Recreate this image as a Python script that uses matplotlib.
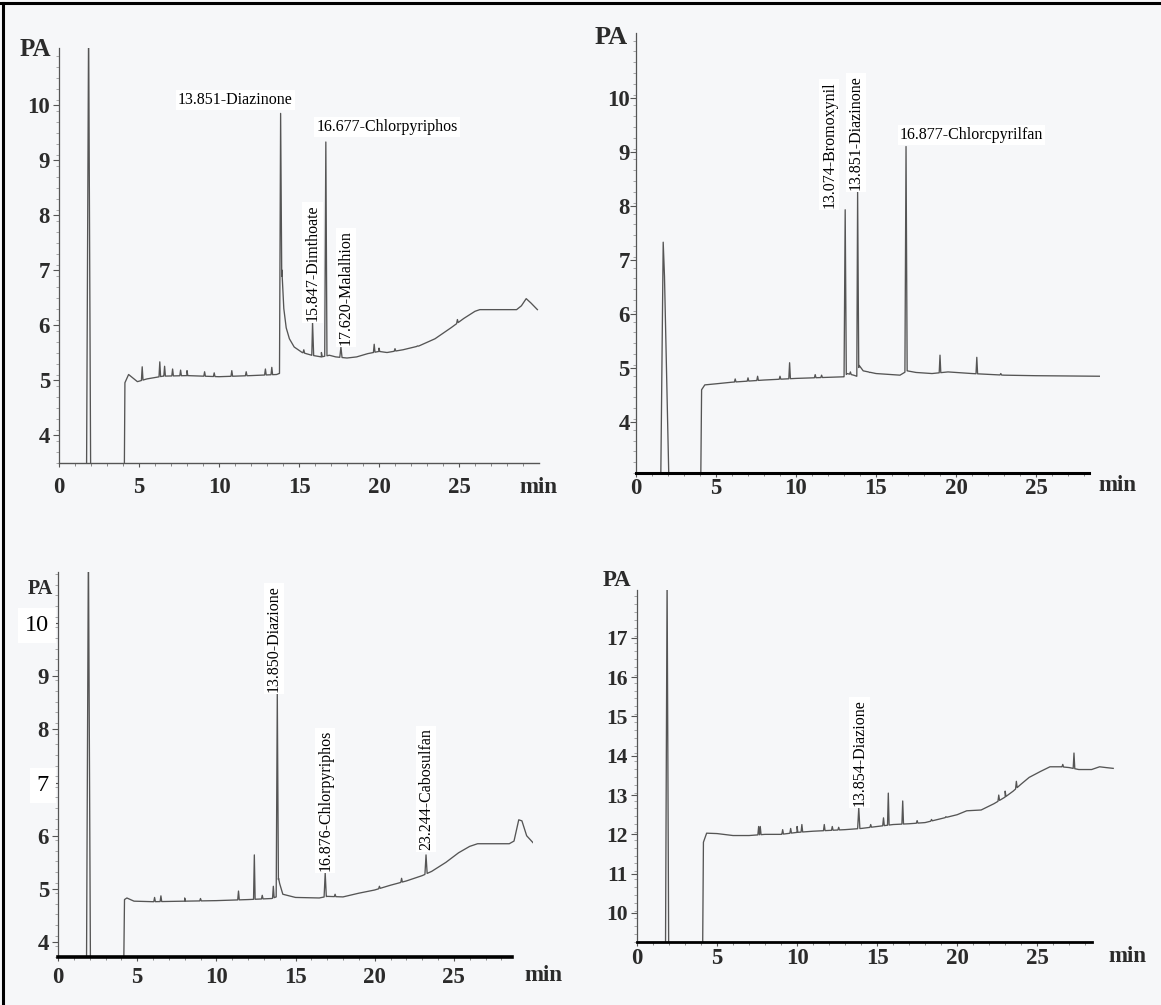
import numpy as np
import matplotlib.pyplot as plt
from matplotlib.lines import Line2D

plt.rcParams['font.family'] = ['Liberation Serif', 'DejaVu Serif']

# ---- panel 1 (top left): baseline trace and spikes, minutes / pA ----
p1_base_t = [1.72, 1.85, 1.98, 4.08, 4.12, 4.35, 4.90, 5.50, 6.50, 8.00, 10.0, 12.0, 13.60,
             13.78, 13.93, 14.05, 14.20, 14.40, 14.70, 15.20, 15.80, 16.40, 16.90, 17.30,
             18.00, 18.60, 19.30, 20.00, 20.50, 21.50, 22.50, 23.50, 24.50, 25.30, 26.00,
             26.30, 28.60, 28.90, 29.20, 29.50, 29.90]
p1_base_y = [3.20, 11.50, 3.20, 3.20, 4.95, 5.10, 4.97, 5.02, 5.07, 5.08, 5.06, 5.08, 5.10,
             5.12, 7.00, 6.30, 5.95, 5.75, 5.60, 5.50, 5.45, 5.42, 5.45, 5.42,
             5.40, 5.42, 5.48, 5.52, 5.50, 5.55, 5.62, 5.75, 5.95, 6.12, 6.25,
             6.28, 6.28, 6.35, 6.48, 6.40, 6.28]
p1_spike_t = [5.2, 6.3, 6.6, 7.1, 7.6, 8.0, 9.1, 9.7, 10.8, 11.7, 12.9, 13.3,
              15.3, 16.4, 19.7, 20.0, 21.0, 22.4, 24.9]
p1_spike_y = [5.24, 5.33, 5.25, 5.20, 5.18, 5.17, 5.15, 5.13, 5.17, 5.15, 5.20, 5.23,
              5.55, 5.50, 5.65, 5.58, 5.57, 5.62, 6.10]
p1_peak_t = [13.851, 15.847, 16.677, 17.620]
p1_peak_y = [9.85, 6.05, 9.33, 5.60]
p1_names = ['13.851-Diazinone', '15.847-Dimthoate', '16.677-Chlorpyriphos', '17.620-Malalhion']

# ---- panel 2 (top right) ----
p2_base_t = [1.55, 1.70, 1.78, 2.05, 4.05, 4.10, 4.30, 5.00, 6.00, 8.00, 10.0, 12.0, 13.0,
             13.2, 13.6, 13.8, 13.95, 14.2, 15.0, 16.5, 16.95, 17.5, 18.5, 19.5, 21.0,
             23.0, 25.0, 29.0]
p2_base_y = [3.00, 7.33, 6.70, 3.00, 3.00, 4.60, 4.69, 4.71, 4.74, 4.78, 4.81, 4.83, 4.84,
             4.90, 4.87, 4.85, 5.05, 4.95, 4.90, 4.87, 4.95, 4.92, 4.90, 4.93, 4.90,
             4.87, 4.86, 4.85]
p2_spike_t = [6.2, 7.0, 7.6, 9.0, 9.6, 11.2, 11.6, 13.4, 14.6, 19.0, 21.3, 22.8]
p2_spike_y = [4.80, 4.82, 4.85, 4.85, 5.10, 4.88, 4.87, 4.93, 4.92, 5.24, 5.20, 4.90]
p2_peak_t = [13.074, 13.851, 16.877]
p2_peak_y = [7.93, 8.26, 9.10]
p2_names = ['13.074-Bromoxynil', '13.851-Diazinone', '16.877-Chlorcpyrilfan']

# ---- panel 3 (bottom left) ----
p3_base_t = [1.80, 1.92, 2.05, 4.15, 4.20, 4.35, 4.80, 6.00, 8.00, 10.0, 12.0, 13.5, 13.78,
             13.93, 14.0, 14.2, 15.0, 16.5, 17.0, 18.0, 19.0, 20.0, 21.0, 22.0, 23.0,
             23.6, 24.5, 25.3, 26.0, 26.5, 28.5, 28.8, 29.1, 29.3, 29.6, 30.0]
p3_base_y = [3.50, 11.50, 3.50, 3.50, 4.80, 4.83, 4.77, 4.76, 4.77, 4.78, 4.80, 4.82, 4.85,
             5.20, 5.10, 4.90, 4.84, 4.83, 4.86, 4.85, 4.92, 4.98, 5.07, 5.15, 5.25,
             5.33, 5.50, 5.68, 5.80, 5.85, 5.85, 5.90, 6.30, 6.28, 6.00, 5.87]
p3_spike_t = [6.1, 6.5, 8.0, 9.0, 11.4, 12.4, 12.9, 13.6, 17.5, 20.3, 21.7]
p3_spike_y = [4.84, 4.87, 4.83, 4.82, 4.96, 5.64, 4.88, 5.05, 4.90, 5.05, 5.20]
p3_peak_t = [13.850, 16.876, 23.244]
p3_peak_y = [8.68, 5.30, 5.64]
p3_names = ['13.850-Diazione', '16.876-Chlorpyriphos', '23.244-Cabosulfan']

# ---- panel 4 (bottom right) ----
p4_base_t = [1.78, 1.88, 1.98, 4.10, 4.15, 4.35, 5.0, 6.0, 7.0, 8.0, 9.0, 10.0, 11.0, 12.0,
             13.0, 14.0, 15.0, 16.0, 17.0, 18.0, 19.0, 20.0, 20.6, 21.5, 22.3, 23.0, 23.5,
             24.0, 24.5, 25.2, 25.8, 26.5, 27.0, 27.6, 28.4, 28.9, 29.3, 29.75]
p4_base_y = [9.00, 18.50, 9.00, 9.00, 11.80, 12.03, 12.02, 11.97, 11.97, 12.00, 12.00,
             12.05, 12.08, 12.10, 12.12, 12.15, 12.20, 12.25, 12.27, 12.30, 12.40, 12.50,
             12.60, 12.62, 12.78, 12.95, 13.10, 13.28, 13.45, 13.60, 13.72, 13.72, 13.70,
             13.65, 13.65, 13.72, 13.70, 13.68]
p4_spike_t = [7.6, 7.7, 9.1, 9.6, 10.0, 10.3, 11.7, 12.2, 12.6, 14.6, 15.4, 15.7, 16.6,
              17.5, 18.4, 19.3, 22.6, 23.0, 23.7, 26.6, 27.3]
p4_spike_y = [12.20, 12.20, 12.12, 12.15, 12.20, 12.25, 12.25, 12.20, 12.18, 12.25, 12.42,
              13.05, 12.85, 12.35, 12.38, 12.45, 13.00, 13.10, 13.35, 13.78, 14.07]
p4_peak_t = [13.854]
p4_peak_y = [12.67]
p4_names = ['13.854-Diazione']

W, H = 1161, 1005
paper = '#f6f7f9'
ink = '#2b2b2b'
trace_col = '#555555'


def px_box(x0, y0, x1, y1):
    return [x0 / W, 1 - y1 / H, (x1 - x0) / W, (y1 - y0) / H]


def px(x, y):
    return x / W, 1 - y / H


def build_trace(bt, by, st, sy, pt, py):
    pts = list(zip(bt, by))
    for group, w in (((st, sy), 0.05), ((pt, py), 0.07)):
        for t, h in zip(*group):
            f0, f1 = np.interp([t - w, t + w], bt, by)
            pts += [(t - w, f0), (t, h), (t + w, f1)]
    pts.sort()
    t, y = zip(*pts)
    return np.array(t), np.array(y)


fig = plt.figure(figsize=(W / 100, H / 100), dpi=100, facecolor=paper)

panels = [
    dict(box=(59, 48, 539, 463), xlim=(0, 30), ylim=(3.49, 11.04), xend=30,
         yticks=range(4, 11), data=(p1_base_t, p1_base_y, p1_spike_t, p1_spike_y,
                                    p1_peak_t, p1_peak_y), names=p1_names,
         bottom_lw=1.0, bottom_col='#555555', xpad=7, ypad=2.5, ysize=16.5,
         pa=(35, 50), pa_size=18, mn=(538, 487)),
    dict(box=(636, 33, 1100, 473), xlim=(0, 29), ylim=(3.06, 11.2), xend=28.3,
         yticks=range(4, 11), data=(p2_base_t, p2_base_y, p2_spike_t, p2_spike_y,
                                    p2_peak_t, p2_peak_y), names=p2_names,
         bottom_lw=2.2, bottom_col='black', xpad=0.5, ypad=0.5, ysize=16.5,
         pa=(611, 38), pa_size=19, mn=(1117, 485)),
    dict(box=(58, 572, 533, 957), xlim=(0, 30), ylim=(3.72, 10.96), xend=28.7,
         yticks=range(4, 11), data=(p3_base_t, p3_base_y, p3_spike_t, p3_spike_y,
                                    p3_peak_t, p3_peak_y), names=p3_names,
         bottom_lw=2.6, bottom_col='black', xpad=4, ypad=2.5, ysize=16.5,
         pa=(40, 589), pa_size=14.5, mn=(543, 975)),
    dict(box=(637, 590, 1114, 942), xlim=(0, 29.8), ylim=(9.26, 18.22), xend=28.4,
         yticks=range(10, 18), data=(p4_base_t, p4_base_y, p4_spike_t, p4_spike_y,
                                     p4_peak_t, p4_peak_y), names=p4_names,
         bottom_lw=2.0, bottom_col='black', xpad=1.5, ypad=2.5, ysize=15.5,
         pa=(617, 580), pa_size=16.5, mn=(1127, 956)),
]

# label placement for each named peak: (dx in min, dy in pA, rotation, ha, va)
label_style = [
    [(0.75, 0.25, 0, 'right', 'center'), (0.0, 0.03, 90, 'center', 'bottom'),
     (-0.6, 0.27, 0, 'left', 'center'), (0.3, 0.03, 90, 'center', 'bottom')],
    [(-1.0, 0.03, 90, 'center', 'bottom'), (-0.1, 0.03, 90, 'center', 'bottom'),
     (-0.4, 0.22, 0, 'left', 'center')],
    [(-0.2, 0.03, 90, 'center', 'bottom'), (0.0, 0.03, 90, 'center', 'bottom'),
     (0.0, 0.1, 90, 'center', 'bottom')],
    [(0.05, 0.05, 90, 'center', 'bottom')],
]

for p, styles in zip(panels, label_style):
    ax = fig.add_axes(px_box(*p['box']))
    ax.set_facecolor('none')
    t, y = build_trace(*p['data'])
    ax.plot(t, y, color=trace_col, lw=0.95)
    ax.set_xlim(*p['xlim'])
    ax.set_ylim(*p['ylim'])

    for side in ('top', 'right'):
        ax.spines[side].set_visible(False)
    ax.spines['bottom'].set_bounds(0, p['xend'])
    ax.spines['bottom'].set_linewidth(p['bottom_lw'])
    ax.spines['bottom'].set_color(p['bottom_col'])
    ax.spines['left'].set_linewidth(0.9)
    ax.spines['left'].set_color('#555555')

    ax.set_xticks([0, 5, 10, 15, 20, 25])
    ax.set_xticks(np.arange(1, p['xend'], 1), minor=True)
    ax.set_yticks(list(p['yticks']))
    ax.set_yticks(np.arange(p['ylim'][0], p['ylim'][1], 0.2), minor=True)
    ax.tick_params(axis='x', which='major', length=3, width=0.8, color='#555555',
                   pad=p['xpad'], labelsize=16.5, labelcolor=ink)
    ax.tick_params(axis='x', which='minor', length=2, width=0.6, color='#777777')
    ax.tick_params(axis='y', which='major', length=4, width=0.8, color='#555555',
                   pad=p['ypad'], labelsize=p['ysize'], labelcolor=ink)
    ax.tick_params(axis='y', which='minor', length=2, width=0.5, color='#888888')
    for lbl in ax.get_xticklabels() + ax.get_yticklabels():
        lbl.set_fontweight('bold')

    fig.text(*px(*p['pa']), 'PA', fontsize=p['pa_size'], fontweight='bold', color=ink,
             ha='center', va='center')
    fig.text(*px(*p['mn']), 'min', fontsize=16.5, fontweight='bold', color=ink,
             ha='center', va='center')

    pk_t, pk_y = p['data'][4], p['data'][5]
    for tt, hh, name, (dx, dy, rot, ha, va) in zip(pk_t, pk_y, p['names'], styles):
        ax.text(tt + dx, hh + dy, name, rotation=rot, ha=ha, va=va, fontsize=11.5,
                color='black', clip_on=False,
                bbox=dict(facecolor='white', edgecolor='none', pad=1.5))

# bottom-left panel carries two retyped tick labels on white patches
ax3 = fig.axes[2]
for lbl in ax3.get_yticklabels():
    if lbl.get_text() in ('10', '7'):
        lbl.set_fontweight('normal')
        lbl.set_color('black')
        lbl.set_fontsize(17.5)
        lbl.set_bbox(dict(facecolor='white', edgecolor='none', pad=5))

# frame along the left and top edges of the sheet
fig.add_artist(Line2D([0.0025, 0.0025], [0, 0.997], transform=fig.transFigure,
                      color='black', lw=2.2))
fig.add_artist(Line2D([0, 1], [0.9972, 0.9972], transform=fig.transFigure,
                      color='black', lw=2.2))

fig.savefig('out.png', dpi=100, facecolor=paper)
